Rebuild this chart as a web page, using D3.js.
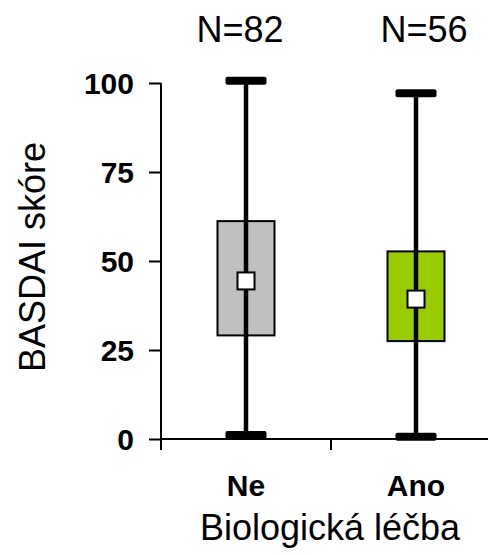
<!DOCTYPE html>
<html>
<head>
<meta charset="utf-8">
<script src="https://cdn.jsdelivr.net/npm/d3@7"></script>
<style>
  html, body { margin: 0; padding: 0; background: #fff; }
  svg { display: block; font-family: "Liberation Sans", Arial, sans-serif; }
</style>
</head>
<body>
<script>
// ---- data ----
const categories = ["Ne", "Ano"];
const nLabels = ["N=82", "N=56"];
const whiskerMin = [1.1, 0.6];
const whiskerMax = [100.6, 97.1];
const boxLow = [29.1, 27.5];
const boxHigh = [61.2, 52.7];
const centerVal = [44.4, 39.3];
const boxColors = ["#c0c0c0", "#99cc00"];
const yTicks = [0, 25, 50, 75, 100];
const yTitle = "BASDAI skóre";
const xTitle = "Biologická léčba";

const W = 488, H = 555;
const svg = d3.select("body").append("svg").attr("width", W).attr("height", H);

const y = d3.scaleLinear().domain([0, 100]).range([439, 83]);
const x = d3.scaleBand().domain(categories).range([161, 501]).padding(0);
const cx = c => x(c) + x.bandwidth() / 2;

// y axis
const yAxis = d3.axisLeft(y).tickValues(yTicks).tickSize(12).tickPadding(15).tickFormat(d3.format("d"));
const gy = svg.append("g").attr("transform", "translate(161,0)").call(yAxis);
gy.select(".domain").attr("stroke", "#000").attr("stroke-width", 2).attr("d", `M0,${y(100)}V450`);
gy.selectAll(".tick line").attr("stroke", "#000").attr("stroke-width", 2);
gy.selectAll(".tick text").attr("font-size", 30).attr("font-weight", "bold").attr("fill", "#000")
  .attr("dy", "0.35em").attr("font-family", "Liberation Sans, Arial, sans-serif");

// x axis
const gx = svg.append("g").attr("transform", `translate(0,${y(0)})`);
gx.append("line").attr("x1", 161).attr("x2", W).attr("y1", 0).attr("y2", 0)
  .attr("stroke", "#000").attr("stroke-width", 2);
const bounds = categories.map(c => x(c)).concat([x.range()[1]]);
gx.selectAll("line.tk").data(bounds).join("line").attr("class", "tk")
  .attr("x1", d => d).attr("x2", d => d).attr("y1", 0).attr("y2", 11)
  .attr("stroke", "#000").attr("stroke-width", 2);
gx.selectAll("text.cat").data(categories).join("text").attr("class", "cat")
  .attr("x", d => cx(d)).attr("y", 57).attr("text-anchor", "middle")
  .attr("font-size", 30).attr("font-weight", "bold").text(d => d);

// titles
svg.append("text").attr("x", 330).attr("y", 540).attr("text-anchor", "middle")
  .attr("font-size", 36).text(xTitle);
svg.append("text").attr("transform", `translate(45,${257}) rotate(-90)`).attr("text-anchor", "middle")
  .attr("font-size", 36).text(yTitle);

// N labels
const nOffset = [-6, 8];
svg.selectAll("text.n").data(nLabels).join("text").attr("class", "n")
  .attr("x", (d, i) => cx(categories[i]) + nOffset[i]).attr("y", 41.5)
  .attr("text-anchor", "middle").attr("font-size", 36).text(d => d);

// boxes
const g = svg.append("g");
const boxW = 57, capW = 41, capH = 8, medS = 17;
categories.forEach((c, i) => {
  const xc = cx(c);
  g.append("rect").attr("x", xc - boxW / 2).attr("y", y(boxHigh[i]))
    .attr("width", boxW).attr("height", y(boxLow[i]) - y(boxHigh[i]))
    .attr("fill", boxColors[i]).attr("stroke", "#000").attr("stroke-width", 2);
  g.append("line").attr("x1", xc).attr("x2", xc).attr("y1", y(whiskerMax[i])).attr("y2", y(whiskerMin[i]))
    .attr("stroke", "#000").attr("stroke-width", 4.5);
  [whiskerMax[i], whiskerMin[i]].forEach(v => {
    g.append("rect").attr("x", xc - capW / 2).attr("y", y(v) - capH / 2)
      .attr("width", capW).attr("height", capH).attr("rx", 2).attr("fill", "#000");
  });
  g.append("rect").attr("x", xc - medS / 2).attr("y", y(centerVal[i]) - medS / 2)
    .attr("width", medS).attr("height", medS)
    .attr("fill", "#fff").attr("stroke", "#000").attr("stroke-width", 2);
});
</script>
</body>
</html>
